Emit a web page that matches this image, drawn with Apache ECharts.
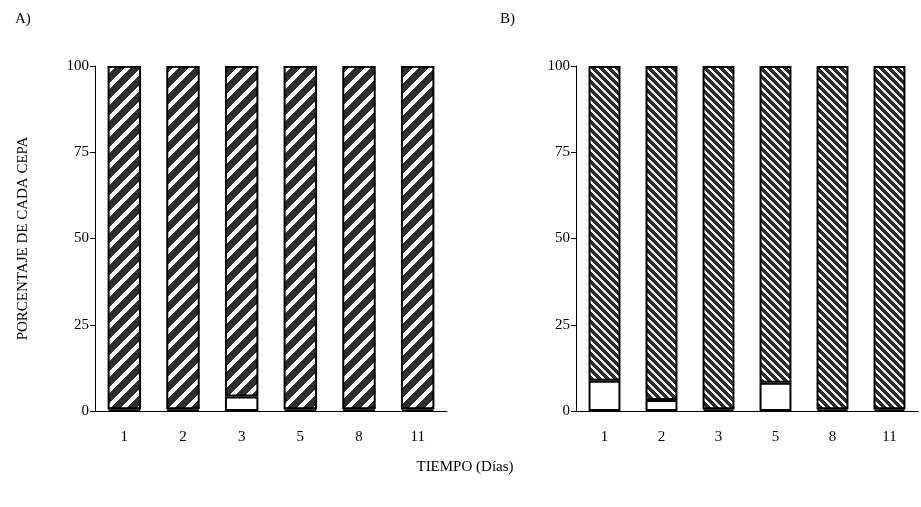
<!DOCTYPE html>
<html>
<head>
<meta charset="utf-8">
<script src="https://cdn.jsdelivr.net/npm/echarts@6/dist/echarts.min.js"></script>
<style>html,body{margin:0;padding:0;background:#fff}#c{width:921px;height:507px}</style>
</head>
<body>
<div id="c"></div>
<script>
// Data
var categories = ['1', '2', '3', '5', '8', '11'];
var yTicks = [0, 25, 50, 75, 100];
var whiteA = [0.5, 0.5, 4.2, 0.5, 0.5, 0.5];
var whiteB = [8.8, 3.2, 0.5, 8.2, 0.5, 0.5];
var stripedA = whiteA.map(function (v) { return 100 - v; });
var stripedB = whiteB.map(function (v) { return 100 - v; });

function makePattern(period, width, dir) {
  var c = document.createElement('canvas');
  c.width = period; c.height = period;
  var ctx = c.getContext('2d');
  var img = ctx.createImageData(period, period);
  for (var y = 0; y < period; y++) {
    for (var x = 0; x < period; x++) {
      var k = dir > 0 ? (x + y) : (x - y + period * 4);
      var white = (k % period) < width;
      var v = white ? 255 : 46;
      var i = (y * period + x) * 4;
      img.data[i] = v; img.data[i + 1] = v; img.data[i + 2] = v; img.data[i + 3] = 255;
    }
  }
  ctx.putImageData(img, 0, 0);
  return c;
}
var patA = { image: makePattern(16, 6, 1), repeat: 'repeat' };
var patB = { image: makePattern(8, 3, -1), repeat: 'repeat' };

var font = 'Liberation Serif';
var chart = echarts.init(document.getElementById('c'), null, { renderer: 'canvas' });

function xAxis(idx) {
  return {
    type: 'category', gridIndex: idx, data: categories,
    axisLine: { lineStyle: { color: '#000', width: 1 } },
    axisTick: { show: false },
    axisLabel: { color: '#000', fontFamily: font, fontSize: 15, margin: 19 }
  };
}
function yAxis(idx, name) {
  return {
    type: 'value', gridIndex: idx, min: 0, max: 100, interval: 25,
    name: name, nameLocation: 'middle', nameGap: 64, nameRotate: 90,
    nameTextStyle: { color: '#000', fontFamily: font, fontSize: 15 },
    axisLine: { show: true, lineStyle: { color: '#000', width: 1 } },
    axisTick: { show: true, length: 5, lineStyle: { color: '#000' } },
    splitLine: { show: false },
    axisLabel: { color: '#000', fontFamily: font, fontSize: 15, margin: 6 }
  };
}
var border = { borderColor: '#000', borderWidth: 2 };

chart.setOption({
  animation: false,
  backgroundColor: '#fff',
  title: [
    { text: 'A)', left: 10, top: 7, textStyle: { fontFamily: font, fontSize: 15, fontWeight: 'normal', color: '#000' } },
    { text: 'B)', left: 495, top: 7, textStyle: { fontFamily: font, fontSize: 15, fontWeight: 'normal', color: '#000' } },
    { text: 'TIEMPO (Días)', left: 460, top: 455, textAlign: 'center', textStyle: { fontFamily: font, fontSize: 15, fontWeight: 'normal', color: '#000' } }
  ],
  grid: [
    { left: 95, right: 474, top: 66, bottom: 96 },
    { left: 576, right: 3, top: 66, bottom: 96 }
  ],
  xAxis: [xAxis(0), xAxis(1)],
  yAxis: [yAxis(0, 'PORCENTAJE DE CADA CEPA'), yAxis(1, '')],
  series: [
    { type: 'bar', xAxisIndex: 0, yAxisIndex: 0, stack: 'a', barWidth: '57%', data: whiteA,
      itemStyle: Object.assign({ color: '#fff' }, border) },
    { type: 'bar', xAxisIndex: 0, yAxisIndex: 0, stack: 'a', barWidth: '57%', data: stripedA,
      itemStyle: Object.assign({ color: patA }, border) },
    { type: 'bar', xAxisIndex: 1, yAxisIndex: 1, stack: 'b', barWidth: '56%', data: whiteB,
      itemStyle: Object.assign({ color: '#fff' }, border) },
    { type: 'bar', xAxisIndex: 1, yAxisIndex: 1, stack: 'b', barWidth: '56%', data: stripedB,
      itemStyle: Object.assign({ color: patB }, border) }
  ]
});
</script>
</body>
</html>
